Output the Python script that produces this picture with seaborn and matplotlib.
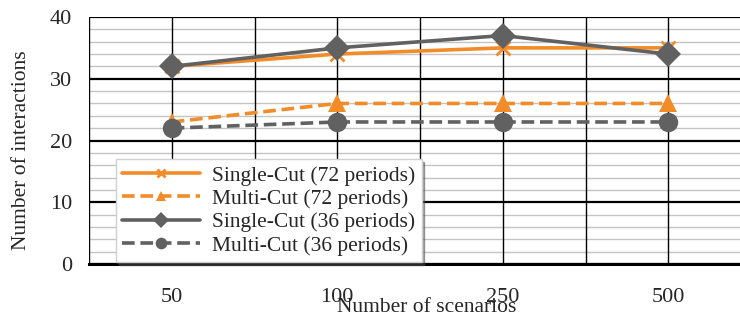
import numpy as np
import pandas as pd
import matplotlib
matplotlib.use("Agg")
import matplotlib.pyplot as plt
import seaborn as sns
from matplotlib.ticker import MultipleLocator

# --- data ------------------------------------------------------------
scenarios = ["50", "100", "250", "500"]
single_72 = [32, 34, 35, 35]
multi_72 = [23, 26, 26, 26]
single_36 = [32, 35, 37, 34]
multi_36 = [22, 23, 23, 23]

series_names = ["Single-Cut (72 periods)", "Multi-Cut (72 periods)",
                "Single-Cut (36 periods)", "Multi-Cut (36 periods)"]
series_vals = [single_72, multi_72, single_36, multi_36]

ORANGE = "#F28C28"
GRAY = "#616161"
styles = {
    "Single-Cut (72 periods)": dict(color=ORANGE, marker="x", ms=10, mew=2.0, dashed=False),
    "Multi-Cut (72 periods)": dict(color=ORANGE, marker="^", ms=13, mew=0, dashed=True),
    "Single-Cut (36 periods)": dict(color=GRAY, marker="D", ms=13, mew=0, dashed=False),
    "Multi-Cut (36 periods)": dict(color=GRAY, marker="o", ms=14, mew=0, dashed=True),
}

df = pd.DataFrame({
    "scenarios": scenarios * len(series_names),
    "value": np.concatenate(series_vals),
    "series": np.repeat(series_names, len(scenarios)),
})

# --- plot ------------------------------------------------------------
sns.set_style("white")
plt.rcParams["font.family"] = ["Liberation Serif", "DejaVu Serif"]

W, H = 740, 318
fig = plt.figure(figsize=(W / 100, H / 100), dpi=100)
ax = fig.add_axes([89 / W, 54 / H, 662 / W, 247 / H])

for name in series_names:
    st = styles[name]
    sub = df[df["series"] == name]
    sns.lineplot(data=sub, x="scenarios", y="value", ax=ax, label=name,
                 color=st["color"], lw=2.6, marker=st["marker"],
                 markersize=st["ms"], markeredgewidth=st["mew"],
                 markeredgecolor=st["color"], sort=False)
    line = ax.lines[-1]
    if st["dashed"]:
        line.set_dashes((3.5, 1.6))
    line.set_zorder(5)

ax.set_xlim(-0.5, 3.5)
ax.set_ylim(0, 40)
ax.yaxis.set_major_locator(MultipleLocator(10))
ax.yaxis.set_minor_locator(MultipleLocator(2))

# grid: gray minor, black major, black vertical at categories and boundaries
ax.grid(which="minor", axis="y", color="#c4c4c4", lw=1.0, zorder=0)
ax.grid(which="major", axis="y", color="black", lw=1.6, zorder=1)
for xv in np.arange(-0.5, 4.0, 0.5):
    ax.axvline(xv, color="black", lw=1.0, zorder=1)
ax.set_axisbelow(True)

for s in ["top", "right", "left"]:
    ax.spines[s].set_visible(False)
ax.spines["bottom"].set_color("black")
ax.spines["bottom"].set_linewidth(2.2)

ax.tick_params(axis="x", length=0, pad=17, labelsize=16)
ax.tick_params(axis="y", which="both", length=0, pad=12, labelsize=16)
ax.set_xlabel("")
ax.set_ylabel("")

fig.text(427 / W, 1 - 308 / H, "Number of scenarios", ha="center", va="center", fontsize=15.5)
fig.text(22 / W, 1 - 150 / H, "Number of interactions", ha="center", va="center",
         rotation=90, fontsize=15.5)

leg = ax.legend(loc="lower left", bbox_to_anchor=(27 / 662, 2 / 247), fontsize=15.5,
                frameon=True, fancybox=False, shadow=True, framealpha=1,
                edgecolor="#d0d0d0", handlelength=3.6, labelspacing=0.15,
                borderpad=0.3, borderaxespad=0, markerscale=0.6, handletextpad=0.55)
leg.set_zorder(10)

fig.savefig("out.png", dpi=100)
